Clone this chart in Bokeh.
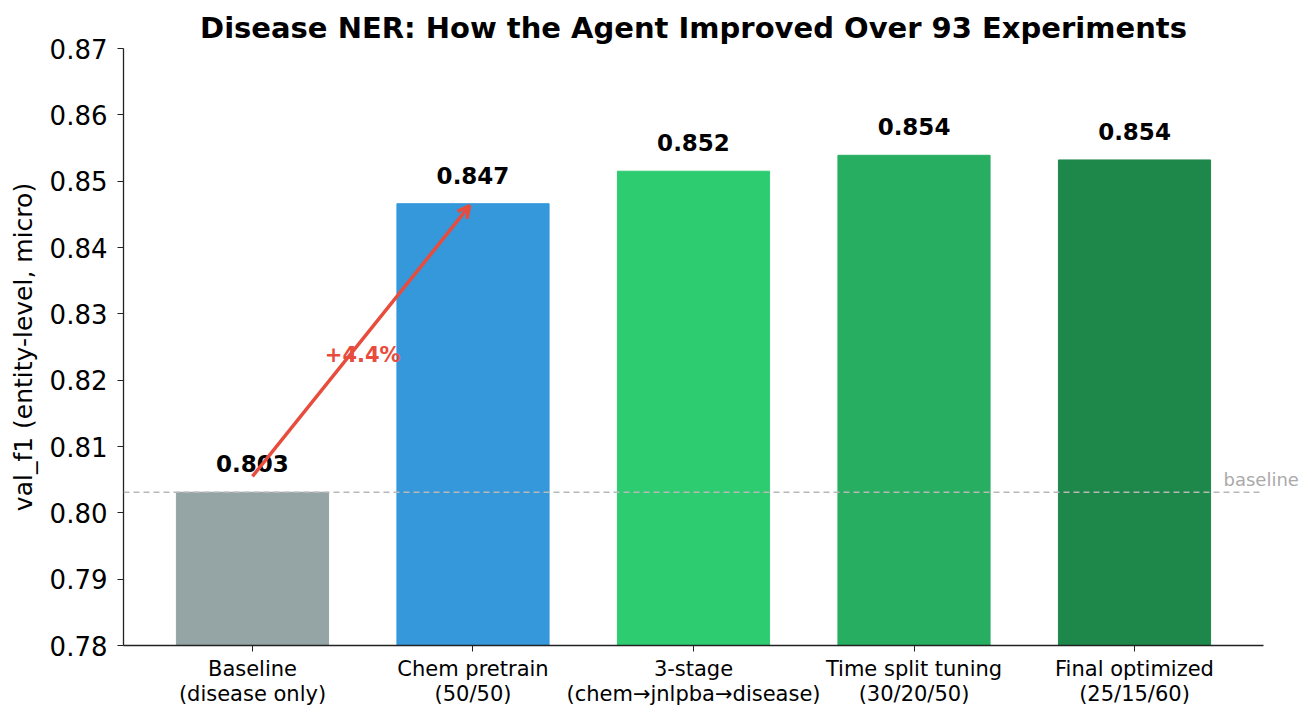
from bokeh.plotting import figure
from bokeh.models import (ColumnDataSource, Span, Label, Arrow, OpenHead, FixedTicker,
                          LinearAxis, CustomJSTickFormatter)
from bokeh.core.properties import value
from bokeh.embed import file_html
from bokeh.resources import INLINE

# data
stages = ["Baseline\n(disease only)", "Chem pretrain\n(50/50)",
          "3-stage\n(chem\u2192jnlpba\u2192disease)", "Time split tuning\n(30/20/50)",
          "Final optimized\n(25/15/60)"]
val_f1 = [0.8031, 0.8466, 0.8515, 0.8539, 0.8532]
val_labels = ["0.803", "0.847", "0.852", "0.854", "0.854"]
bar_colors = ["#95a5a6", "#3498db", "#2ecc71", "#27ae60", "#1d884a"]
gain_label = "+4.4%"
y_ticks = [0.78, 0.79, 0.80, 0.81, 0.82, 0.83, 0.84, 0.85, 0.86, 0.87]

FONT = "DejaVu Sans"
xs = list(range(len(stages)))

src = ColumnDataSource(data=dict(
    x=xs, top=val_f1, color=bar_colors,
    label_y=[v + 0.003 for v in val_f1], label=val_labels,
))

p = figure(width=1315, height=718,
           x_range=(-0.585, len(stages) - 1 + 0.585), y_range=(0.78, 0.87),
           output_backend="svg", toolbar_location=None,
           min_border_left=123, min_border_right=52,
           min_border_top=48, min_border_bottom=73)

p.title.text = "Disease NER: How the Agent Improved Over 93 Experiments"
p.title.text_font = FONT
p.title.text_font_size = "29px"
p.title.text_font_style = "bold"
p.title.align = "center"
p.title.text_color = "black"
p.title.standoff = 7

p.vbar(x="x", top="top", bottom=0.78, width=0.69, color="color", source=src)

p.text(x="x", y="label_y", text="label", source=src,
       text_align="center", text_baseline="bottom",
       text_font_size="23px", text_font_style="bold", text_font=value(FONT),
       text_color="black")

# baseline reference line
p.add_layout(Span(location=val_f1[0], dimension="width", line_color="#b8b8b8",
                  line_dash="6 4", line_width=1.3))

# "baseline" note sits across the right edge of the frame, so it is drawn
# as the tick label of a hidden axis on the right
note_axis = LinearAxis(ticker=FixedTicker(ticks=[val_f1[0] + 0.002]),
                       formatter=CustomJSTickFormatter(code="return 'baseline'"))
note_axis.axis_line_color = None
note_axis.major_tick_line_color = None
note_axis.minor_tick_line_color = None
note_axis.major_label_standoff = -46
note_axis.major_label_text_font = FONT
note_axis.major_label_text_font_size = "18px"
note_axis.major_label_text_color = "#aaaaaa"
p.add_layout(note_axis, "right")

# improvement arrow
p.add_layout(Arrow(end=OpenHead(line_color="#e74c3c", line_width=3.5, size=12),
                   x_start=0, y_start=val_f1[0] + 0.0024,
                   x_end=0.985, y_end=val_f1[1] - 0.0003,
                   line_color="#e74c3c", line_width=3.5))
p.add_layout(Label(x=0.5, y=(val_f1[0] + val_f1[1]) / 2 - 0.001, text=gain_label,
                   text_font=FONT, text_font_size="21px", text_font_style="bold",
                   text_color="#e74c3c", text_align="center", text_baseline="middle"))

# axes
p.xgrid.visible = False
p.ygrid.visible = False
p.outline_line_color = None

p.xaxis.ticker = FixedTicker(ticks=xs)
p.xaxis.major_label_overrides = {i: s for i, s in zip(xs, stages)}
p.xaxis.major_label_text_font = FONT
p.xaxis.major_label_text_font_size = "21px"
p.xaxis.major_label_text_line_height = 1.05
p.xaxis.major_label_text_color = "black"
p.xaxis.minor_tick_line_color = None
p.xaxis.major_tick_out = 6
p.xaxis.major_tick_in = 0
p.xaxis.major_label_standoff = 5

yax = p.yaxis[0]
yax.ticker = FixedTicker(ticks=y_ticks)
yax.major_label_overrides = {t: "%.2f" % t for t in y_ticks}
yax.major_label_text_font = FONT
yax.major_label_text_font_size = "26px"
yax.major_label_text_color = "black"
yax.minor_tick_line_color = None
yax.major_tick_out = 6
yax.major_tick_in = 0
yax.major_label_standoff = 10
yax.axis_label = "val_f1 (entity-level, micro)"
yax.axis_label_text_font = FONT
yax.axis_label_text_font_size = "25px"
yax.axis_label_text_font_style = "normal"
yax.axis_label_text_color = "black"
yax.axis_label_standoff = 9

for ax in (p.xaxis[0], yax):
    ax.axis_line_color = "#222222"
    ax.major_tick_line_color = "#222222"
    ax.axis_line_width = 1.3

open("out.html", "w").write(file_html(p, INLINE))
